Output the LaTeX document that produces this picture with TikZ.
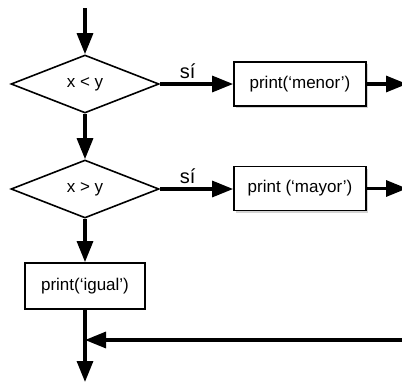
\documentclass[tikz,border=0pt]{standalone}
\usepackage{fontspec}
\setmainfont{Liberation Sans}
\usepackage{tikz}
\usetikzlibrary{shapes.geometric, arrows.meta, shadows}

\begin{document}
\begin{tikzpicture}[x=1pt, y=-1pt,
    flow/.style={line width=3.2pt, -{Triangle[length=21pt, width=16pt]}},
    test/.style={draw, diamond, line width=1.6pt, inner sep=0pt, minimum width=148pt, minimum height=58pt, font=\fontsize{17}{20}\selectfont},
    action/.style={draw, line width=1.8pt, fill=white, minimum width=132pt, minimum height=44pt, font=\fontsize{17}{20}\selectfont},
    shade/.style={drop shadow={shadow xshift=1.5pt, shadow yshift=-2pt, opacity=0.35}},
    yes/.style={pos=0.38, above, inner sep=4pt, font=\fontsize{20}{24}\selectfont}]
    \useasboundingbox (0, 0) rectangle (402, 383);

    \coordinate (start) at (85, 8);
    \node[test] (lt) at (85, 84) {x < y};
    \node[test] (gt) at (85, 189) {x > y};

    \node[action, shade] (menor) at (300, 84) {print(‘menor’)};
    \node[action, shade] (mayor) at (300, 188.5) {print (‘mayor’)};
    \node[action, minimum width=120pt, minimum height=46pt] (igual) at (85, 286) {print(‘igual’)};

    \coordinate (out1) at (407, 84);
    \coordinate (out2) at (407, 188.5);
    \coordinate (back) at (402, 340);
    \coordinate (join) at (85, 340);
    \coordinate (stop) at (85, 382);

    \draw[flow] (start) -- (lt.north);
    \draw[flow] (lt.east) -- (menor.west) node[yes]{sí};
    \draw[flow] (menor.east) -- (out1);
    \draw[flow] (lt.south) -- (gt.north);
    \draw[flow] (gt.east) -- (gt.east -| mayor.west) node[yes]{sí};
    \draw[flow] (mayor.east) -- (out2);
    \draw[flow] (gt.south) -- (igual.north);
    \draw[flow] (igual.south) -- (stop);
    \draw[flow] (back) -- (join);

\end{tikzpicture}
\end{document}
